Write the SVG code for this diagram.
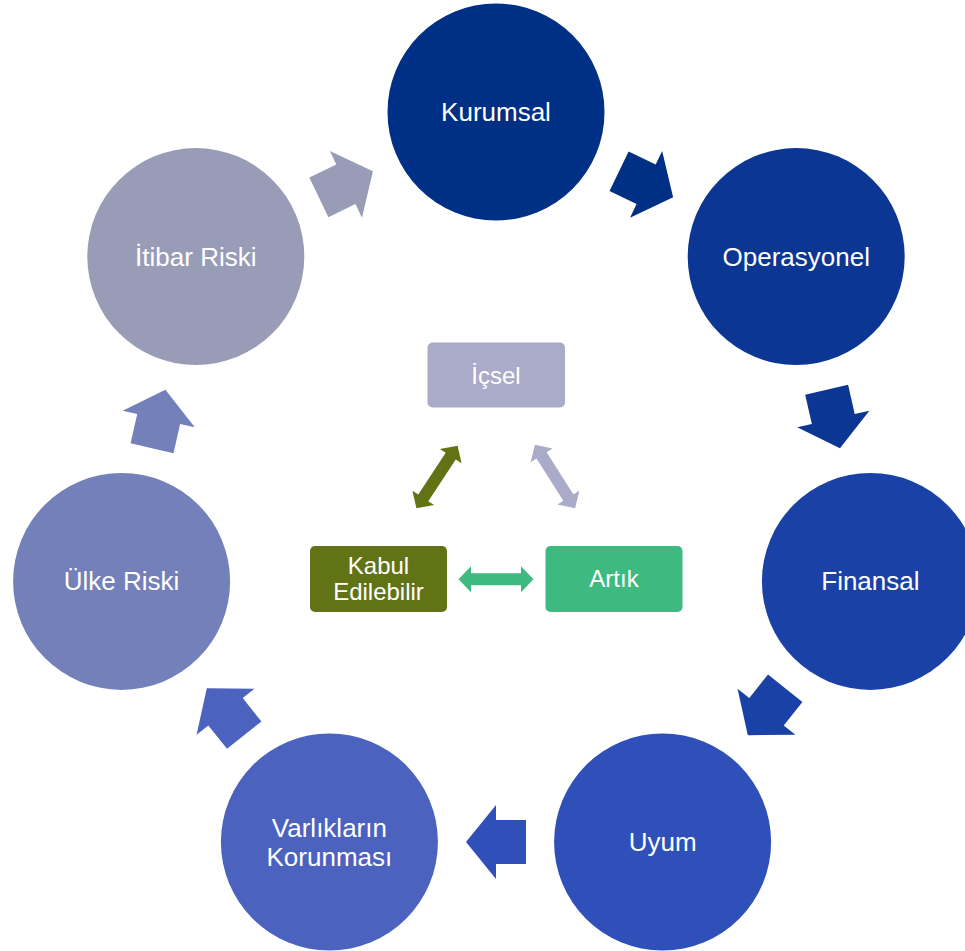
<svg xmlns="http://www.w3.org/2000/svg" width="965" height="951" viewBox="0 0 965 951">
<style>
.lbl{font-family:"Liberation Sans",Arial,sans-serif;font-size:26px;fill:#fff;text-anchor:middle}
.clbl{font-family:"Liberation Sans",Arial,sans-serif;font-size:24px;fill:#fff;text-anchor:middle}
</style>
<defs>
<path id="arr" d="M-30,-22 L0,-22 L0,-37 L30,0 L0,37 L0,22 L-30,22 Z"/>
<path id="darr" d="M-37.5,0 L-25,-13 L-25,-6 L25,-6 L25,-13 L37.5,0 L25,13 L25,6 L-25,6 L-25,13 Z"/>
</defs>
<rect width="965" height="951" fill="#fff"/>
<g id="connectors">
<use href="#arr" fill="#002F86" transform="translate(646.1,184.3) rotate(25.714)"/>
<use href="#arr" fill="#0B3694" transform="translate(833.3,419) rotate(77.143)"/>
<use href="#arr" fill="#1A42A6" transform="translate(766.5,711.7) rotate(128.571)"/>
<use href="#arr" fill="#2E50B8" transform="translate(496,842) rotate(180)"/>
<use href="#arr" fill="#4B62BF" transform="translate(225.5,711.7) rotate(231.429)"/>
<use href="#arr" fill="#7380B9" transform="translate(158.7,419) rotate(282.857)"/>
<use href="#arr" fill="#989CB7" transform="translate(345.9,184.3) rotate(334.286)"/>
<use href="#darr" fill="#627316" transform="translate(437,477) rotate(123.3)"/>
<use href="#darr" fill="#AAABC8" transform="translate(555,476.5) rotate(57.6)"/>
<use href="#darr" fill="#3EB97F" transform="translate(496,579.3)"/>
</g>
<g id="kurumsal"><circle cx="496" cy="112" r="108.5" fill="#002F86"/><text class="lbl" x="496" y="121">Kurumsal</text></g>
<g id="operasyonel"><circle cx="796.2" cy="256.6" r="108.5" fill="#0B3694"/><text class="lbl" x="796.2" y="265.6">Operasyonel</text></g>
<g id="finansal"><circle cx="870.4" cy="581.4" r="108.5" fill="#1A42A6"/><text class="lbl" x="870.4" y="590.4">Finansal</text></g>
<g id="uyum"><circle cx="662.6" cy="842" r="108.5" fill="#2E50B8"/><text class="lbl" x="662.6" y="851">Uyum</text></g>
<g id="varliklarin"><circle cx="329.4" cy="842" r="108.5" fill="#4B62BF"/><text class="lbl" x="329.4" y="837">Varlıkların</text><text class="lbl" x="329.4" y="866">Korunması</text></g>
<g id="ulke"><circle cx="121.6" cy="581.4" r="108.5" fill="#7380B9"/><text class="lbl" x="121.6" y="590.4">Ülke Riski</text></g>
<g id="itibar"><circle cx="195.8" cy="256.6" r="108.5" fill="#989CB7"/><text class="lbl" x="195.8" y="265.6">İtibar Riski</text></g>
<g id="icsel"><rect x="427.5" y="342.5" width="137.5" height="65" rx="5" fill="#AAABC8"/><text class="clbl" x="496" y="383.5">İçsel</text></g>
<g id="kabul"><rect x="310" y="546" width="137" height="66" rx="5" fill="#627316"/><text class="clbl" x="378.5" y="573.5">Kabul</text><text class="clbl" x="378.5" y="599.5">Edilebilir</text></g>
<g id="artik"><rect x="545.5" y="546" width="137" height="66" rx="5" fill="#3EB97F"/><text class="clbl" x="614" y="587">Artık</text></g>
</svg>
